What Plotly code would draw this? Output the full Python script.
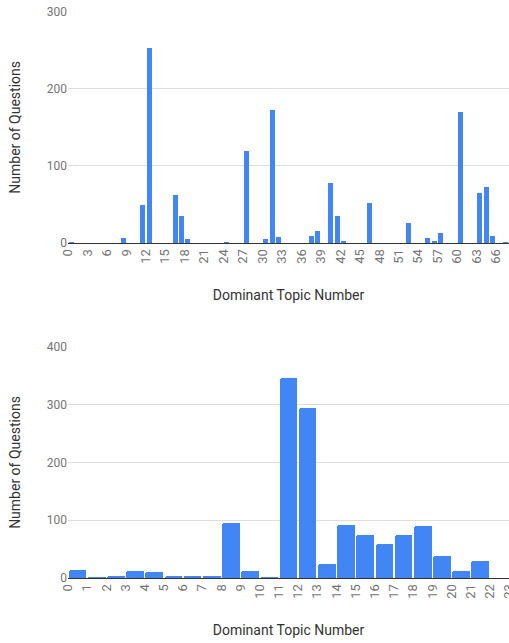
import plotly.graph_objects as go
from plotly.subplots import make_subplots

# Top chart: topic number (bin start) -> count
top_topics = [0, 8, 11, 12, 16, 17, 18, 24, 27, 30, 31, 32, 37, 38, 40, 41, 42, 46, 52, 55, 56, 57, 60, 63, 64, 65, 67]
top_counts = [2, 7, 50, 253, 63, 36, 5, 1, 120, 6, 173, 8, 10, 16, 78, 35, 3, 52, 27, 7, 3, 14, 170, 65, 73, 10, 1]
top_ticks = list(range(0, 67, 3))

# Bottom chart
bot_topics = list(range(0, 22))
bot_counts = [13, 1, 4, 12, 10, 4, 2, 2, 95, 12, 1, 346, 294, 25, 92, 75, 59, 75, 90, 38, 12, 30]
bot_ticks = list(range(0, 24))

BLUE = "#4285F4"
FONT = "Roboto"

fig = make_subplots(rows=2, cols=1)

fig.add_trace(go.Bar(
    x=[t + 0.5 for t in top_topics], y=top_counts, width=0.77,
    marker=dict(color=BLUE, line=dict(width=0), cornerradius=1),
    showlegend=False), row=1, col=1)
fig.add_trace(go.Bar(
    x=[t + 0.5 for t in bot_topics], y=bot_counts, width=0.92,
    marker=dict(color=BLUE, line=dict(width=0), cornerradius=2),
    showlegend=False), row=2, col=1)

axis_common = dict(
    showgrid=False, zeroline=False, showline=True, linecolor="#333333", linewidth=1,
    ticks="", tickangle=-90, tickfont=dict(family=FONT, size=13, color="#757575"),
    title=dict(text="Dominant Topic Number", font=dict(family=FONT, size=14, color="#333333"), standoff=27),
    fixedrange=True, automargin=False, ticklabeloverflow="allow",
)
yaxis_common = dict(
    showgrid=True, gridcolor="#dedede", gridwidth=1, zeroline=False, showline=False,
    ticks="", tickfont=dict(family=FONT, size=12, color="#757575"),
    title=dict(text="Number of Questions", font=dict(family=FONT, size=14, color="#333333"), standoff=22),
    fixedrange=True, automargin=False,
)

fig.update_layout(
    width=509, height=643,
    margin=dict(l=68, r=0, t=11, b=65, autoexpand=False),
    paper_bgcolor="white", plot_bgcolor="white",
    bargap=0,
    xaxis=dict(axis_common, range=[0, 68], tickmode="array", tickvals=top_ticks,
               ticktext=[str(t) for t in top_ticks], domain=[0, 1]),
    yaxis=dict(yaxis_common, range=[0, 300], tickvals=[0, 100, 200, 300], domain=[0.5908, 0.9988]),
    xaxis2=dict(axis_common, range=[0, 23], tickmode="array", tickvals=bot_ticks,
                ticktext=[str(t) for t in bot_ticks], domain=[0, 1]),
    yaxis2=dict(yaxis_common, range=[0, 400], tickvals=[0, 100, 200, 300, 400], domain=[0, 0.4074]),
)

fig.write_html("out.html", config={"displayModeBar": False},
               post_script="document.body.style.margin='0px';document.body.style.overflow='hidden';")
